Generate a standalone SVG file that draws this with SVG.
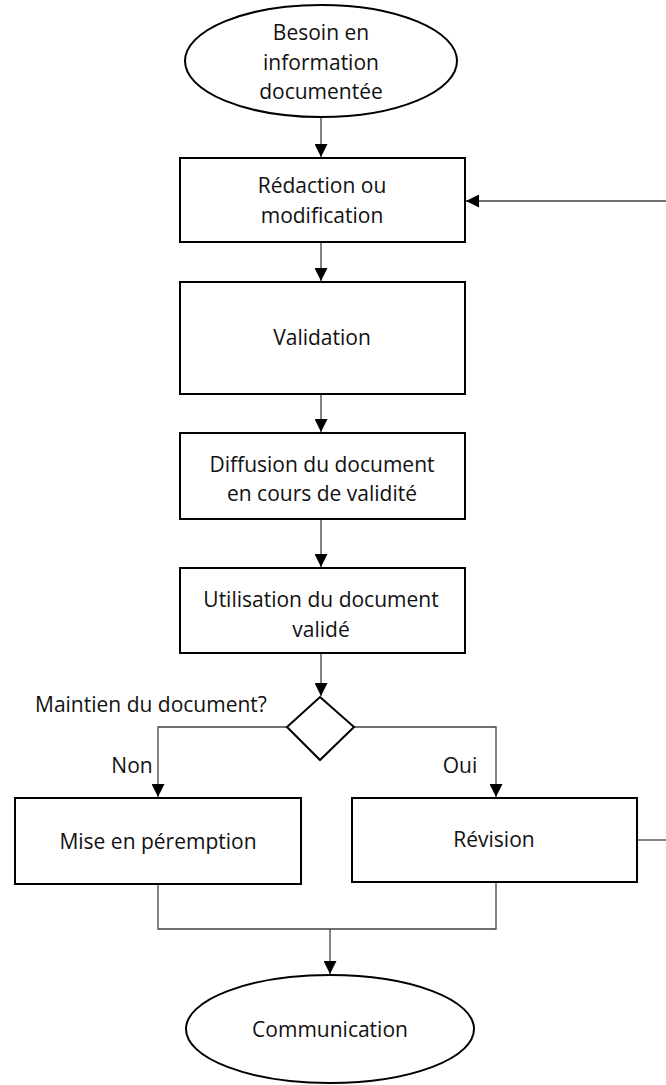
<svg xmlns="http://www.w3.org/2000/svg" width="666" height="1085" viewBox="0 0 666 1085">
<style>
.n{fill:#fff;stroke:#000;stroke-width:2}
.c{fill:none;stroke:#404040;stroke-width:1.3}
text{font-family:"Open Sans","Liberation Sans",sans-serif;font-size:21px;fill:#111;text-anchor:middle}
.l{text-anchor:start}
</style>
<defs>
<marker id="a" viewBox="0 0 10 10" refX="10" refY="5" markerWidth="13" markerHeight="13" markerUnits="userSpaceOnUse" orient="auto">
<path d="M0,0L10,5L0,10z" fill="#000"/>
</marker>
</defs>
<g id="connectors">
<line class="c" x1="321" y1="117" x2="321" y2="157" marker-end="url(#a)"/>
<line class="c" x1="321" y1="242" x2="321" y2="281" marker-end="url(#a)"/>
<line class="c" x1="321" y1="394" x2="321" y2="432" marker-end="url(#a)"/>
<line class="c" x1="321" y1="519" x2="321" y2="567" marker-end="url(#a)"/>
<line class="c" x1="321" y1="653" x2="321" y2="696" marker-end="url(#a)"/>
<polyline class="c" points="287,727 158,727 158,797" marker-end="url(#a)"/>
<polyline class="c" points="354,727 496,727 496,797" marker-end="url(#a)"/>
<line class="c" x1="666" y1="201" x2="466" y2="201" marker-end="url(#a)"/>
<line class="c" x1="637" y1="840" x2="666" y2="840"/>
<polyline class="c" points="158,884 158,929 496,929 496,882"/>
<line class="c" x1="330" y1="929" x2="330" y2="974" marker-end="url(#a)"/>
</g>
<g id="start">
<ellipse class="n" cx="321" cy="61" rx="136" ry="56"/>
<text x="321" y="40">Besoin en</text>
<text x="321" y="70">information</text>
<text x="321" y="99">documentée</text>
</g>
<g id="redaction">
<rect class="n" x="180" y="158" width="285" height="84"/>
<text x="322" y="193">Rédaction ou</text>
<text x="322" y="223">modification</text>
</g>
<g id="validation">
<rect class="n" x="180" y="282" width="285" height="112"/>
<text x="322" y="345">Validation</text>
</g>
<g id="diffusion">
<rect class="n" x="180" y="433" width="285" height="86"/>
<text x="322" y="472">Diffusion du document</text>
<text x="322" y="501">en cours de validité</text>
</g>
<g id="utilisation">
<rect class="n" x="180" y="568" width="285" height="85"/>
<text x="321" y="607">Utilisation du document</text>
<text x="321" y="637">validé</text>
</g>
<g id="decision">
<polygon class="n" points="320,697 354,727 320,760 287,727"/>
<text class="l" x="35" y="712">Maintien du document?</text>
</g>
<text x="132" y="773">Non</text>
<text x="460" y="773">Oui</text>
<g id="peremption">
<rect class="n" x="15" y="798" width="286" height="86"/>
<text x="158" y="849">Mise en péremption</text>
</g>
<g id="revision">
<rect class="n" x="352" y="798" width="285" height="84"/>
<text x="494" y="847">Révision</text>
</g>
<g id="communication">
<ellipse class="n" cx="330" cy="1029" rx="144" ry="54"/>
<text x="330" y="1037">Communication</text>
</g>
</svg>
